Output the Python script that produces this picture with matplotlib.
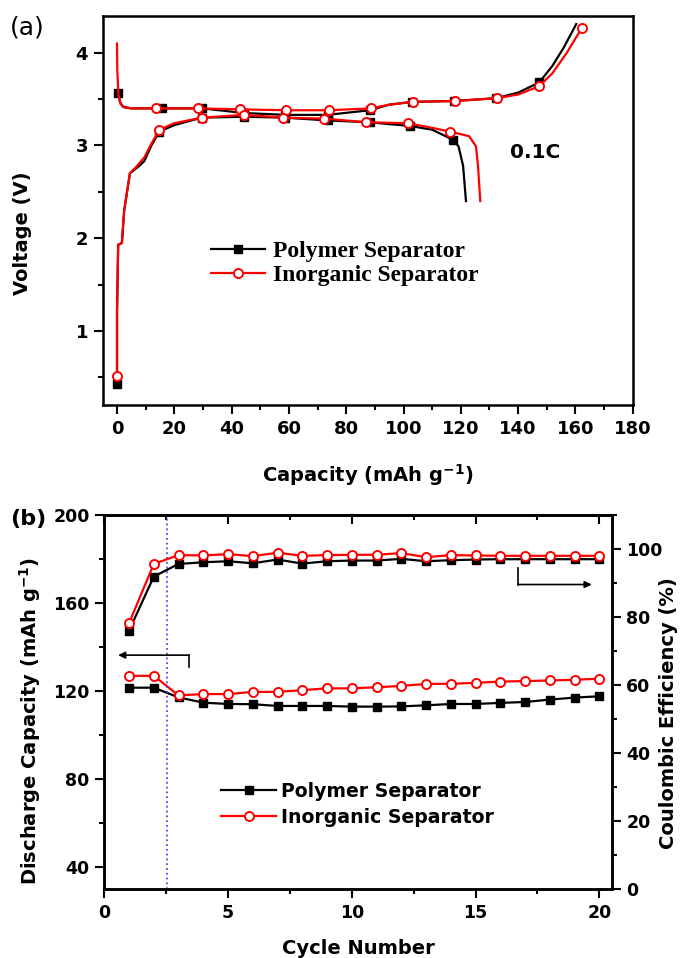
import numpy as np
import matplotlib
matplotlib.use('Agg')
import matplotlib.pyplot as plt
from matplotlib.ticker import MultipleLocator

plt.rcParams['font.family'] = ['DejaVu Sans']
plt.rcParams['font.weight'] = 'bold'
plt.rcParams['mathtext.fontset'] = 'dejavusans'
plt.rcParams['mathtext.default'] = 'bf'

# ---- panel (a): charge / discharge profiles at 0.1C ----
red_charge_cap = [0, 0.1, 0.5, 1.2, 2.5, 5, 13.6, 28.2, 42.9, 58.9, 73.9, 88.5, 95, 103.2,
                  117.9, 132.6, 140, 147.4, 152, 157, 162.3]
red_charge_v = [4.10, 3.80, 3.55, 3.45, 3.41, 3.40, 3.40, 3.40, 3.39, 3.38, 3.38, 3.40, 3.44, 3.47,
                3.48, 3.51, 3.55, 3.64, 3.78, 4.00, 4.27]
red_charge_marks = [6, 7, 8, 9, 10, 11, 13, 14, 15, 17, 20]

black_charge_cap = [0.5, 1.0, 2.0, 5, 15.6, 29.7, 44.4, 58.8, 73.5, 88.2, 95, 102.9, 117.6,
                    132.4, 140, 147.4, 152, 156, 160.3]
black_charge_v = [3.57, 3.47, 3.42, 3.40, 3.40, 3.40, 3.35, 3.33, 3.33, 3.38, 3.44, 3.47, 3.48,
                  3.51, 3.57, 3.68, 3.86, 4.06, 4.31]
black_charge_marks = [0, 4, 5, 6, 7, 8, 9, 11, 12, 13, 15]

red_dis_cap = [0, 0, 0.4, 0.6, 1.7, 2.5, 4.5, 7, 9.5, 12, 14.8, 20, 29.5, 44.4, 58, 72.4, 87,
               101.5, 110, 116.2, 122.9, 125.3, 126.0, 126.8]
red_dis_v = [0.51, 1.2, 1.93, 1.93, 1.95, 2.3, 2.70, 2.78, 2.87, 3.02, 3.17, 3.24, 3.30, 3.33,
             3.30, 3.29, 3.25, 3.24, 3.19, 3.15, 3.10, 2.99, 2.78, 2.40]
red_dis_marks = [0, 10, 12, 13, 14, 15, 16, 17, 19]

black_dis_cap = [0, 0, 0.4, 0.6, 1.7, 2.5, 4.5, 7, 9.5, 12, 14.8, 20, 29.5, 44.4, 58.6, 73.5,
                 88.2, 102.3, 110, 117.4, 119.2, 120.8, 121.8]
black_dis_v = [0.43, 1.2, 1.93, 1.93, 1.95, 2.3, 2.70, 2.76, 2.83, 3.0, 3.15, 3.22, 3.30, 3.31,
               3.30, 3.27, 3.25, 3.21, 3.17, 3.06, 2.99, 2.78, 2.40]
black_dis_marks = [0, 10, 12, 13, 14, 15, 16, 17, 19]

# ---- panel (b): cycling ----
cycles = np.arange(1, 21)
black_cap = [121.5, 121.5, 117.1, 114.7, 114.1, 114.0, 113.2, 113.2, 113.2, 112.9,
             112.9, 113.0, 113.5, 114.1, 114.1, 114.6, 115.0, 116.1, 117.0, 117.6]
red_cap = [126.9, 126.9, 118.0, 118.6, 118.6, 119.6, 119.6, 120.4, 121.2, 121.2,
           121.7, 122.3, 123.2, 123.3, 123.7, 124.3, 124.5, 124.8, 125.1, 125.6]
black_ce = [76.0, 91.9, 95.6, 96.1, 96.4, 95.8, 96.9, 95.7, 96.4, 96.6,
            96.6, 97.1, 96.4, 96.7, 96.9, 97.0, 97.0, 97.0, 97.0, 97.0]
red_ce = [78.2, 95.6, 98.2, 98.1, 98.5, 97.9, 98.9, 98.0, 98.2, 98.3,
          98.3, 98.8, 97.6, 98.2, 98.1, 98.0, 98.0, 98.0, 98.0, 98.0]

labels = ['Polymer Separator', 'Inorganic Separator']
RED = '#ff0000'

fig = plt.figure(figsize=(6.81, 9.58), dpi=100)

blk_style = dict(color='black', lw=1.6, marker='s', ms=5.5, mfc='black', mec='black')
red_style = dict(color=RED, lw=1.6, marker='o', ms=6.5, mfc='white', mec=RED, mew=1.4)


def style_ticks(ax, size):
    for sp in ax.spines.values():
        sp.set_linewidth(1.8)
    ax.tick_params(which='major', length=6.5, width=1.5, labelsize=size, pad=4)
    ax.tick_params(which='minor', length=3.5, width=1.5)


def center_label(label):
    label.set_ha('center')
    label.set_va('center')


# panel (a)
ax1 = fig.add_axes([102.7 / 681, 1 - 405 / 958, 530 / 681, 389.3 / 958])
ax1.plot(black_charge_cap, black_charge_v, markevery=black_charge_marks, **blk_style)
ax1.plot(black_dis_cap, black_dis_v, markevery=black_dis_marks, **blk_style)
ax1.plot(red_charge_cap, red_charge_v, markevery=red_charge_marks, **red_style)
ax1.plot(red_dis_cap, red_dis_v, markevery=red_dis_marks, **red_style)
ax1.set_xlim(-5, 180)
ax1.set_ylim(0.2, 4.4)
ax1.xaxis.set_major_locator(MultipleLocator(20))
ax1.xaxis.set_minor_locator(MultipleLocator(10))
ax1.yaxis.set_major_locator(MultipleLocator(1))
ax1.yaxis.set_minor_locator(MultipleLocator(0.5))
ax1.tick_params(which='both', direction='out', top=False, right=False)
style_ticks(ax1, 13)
ax1.set_xlabel('Capacity (mAh g$^{-1}$)', fontsize=14, fontweight='bold')
ax1.set_ylabel('Voltage (V)', fontsize=14, fontweight='bold')
center_label(ax1.xaxis.label)
center_label(ax1.yaxis.label)
ax1.xaxis.set_label_coords(0.5, -0.18)
ax1.yaxis.set_label_coords(-0.152, 0.44)
ax1.text(145.9, 2.92, '0.1C', fontsize=14.5, fontweight='bold', ha='center', va='center')

h_blk = plt.Line2D([], [], **blk_style)
h_red = plt.Line2D([], [], **red_style)
ax1.legend([h_blk, h_red], labels, loc='center left',
           bbox_to_anchor=(210.7 / 681, 1 - 263.3 / 958), bbox_transform=fig.transFigure,
           frameon=False, borderpad=0, borderaxespad=0, handlelength=2.3, handletextpad=0.33,
           labelspacing=0.12, prop=dict(family='Liberation Serif', weight='bold', size=17))

# panel (b)
ax2 = fig.add_axes([104.3 / 681, 1 - 889 / 958, 507.4 / 681, 374 / 958])
ax2r = ax2.twinx()
ax2.plot(cycles, black_cap, **blk_style)
ax2.plot(cycles, red_cap, **red_style)
ax2r.plot(cycles, black_ce, **blk_style)
ax2r.plot(cycles, red_ce, **red_style)
ax2.axvline(2.55, color='#4a4aff', ls=':', lw=1.3)
ax2.set_xlim(0, 20.5)
ax2.set_ylim(30, 200)
ax2r.set_ylim(0, 110)
ax2.xaxis.set_major_locator(MultipleLocator(5))
ax2.xaxis.set_minor_locator(MultipleLocator(2.5))
ax2.yaxis.set_major_locator(MultipleLocator(40))
ax2.yaxis.set_minor_locator(MultipleLocator(20))
ax2r.yaxis.set_major_locator(MultipleLocator(20))
ax2r.yaxis.set_minor_locator(MultipleLocator(10))
ax2.tick_params(which='both', direction='out', top=False, right=False)
style_ticks(ax2, 12.5)
style_ticks(ax2r, 12.5)
ax2r.tick_params(which='both', direction='out')

# top spine ticks point inside, no labels
top = ax2.secondary_xaxis('top')
top.xaxis.set_major_locator(MultipleLocator(5))
top.xaxis.set_minor_locator(MultipleLocator(2.5))
top.tick_params(which='both', direction='in', labeltop=False, width=1.5)
top.tick_params(which='major', length=6.5)
top.tick_params(which='minor', length=3.5)
top.spines['top'].set_linewidth(1.8)

ax2.set_xlabel('Cycle Number', fontsize=14, fontweight='bold')
ax2.set_ylabel('Discharge Capacity (mAh g$^{-1}$)', fontsize=14, fontweight='bold')
ax2r.set_ylabel('Coulombic Efficiency (%)', fontsize=14, fontweight='bold', rotation=90)
for lab in (ax2.xaxis.label, ax2.yaxis.label, ax2r.yaxis.label):
    center_label(lab)
ax2.xaxis.set_label_coords(0.5, -0.158)
ax2.yaxis.set_label_coords(-0.146, 0.45)
ax2r.yaxis.set_label_coords(1.112, 0.47)

# direction arrows
ax2.plot([3.43, 3.43], [130.7, 136.3], color='black', lw=1.2)
ax2.annotate('', xy=(0.56, 136.3), xytext=(3.43, 136.3),
             arrowprops=dict(arrowstyle='-|>', color='black', lw=1.2, shrinkA=0, shrinkB=0))
ax2.plot([16.71, 16.71], [175.9, 168.4], color='black', lw=1.2)
ax2.annotate('', xy=(19.69, 168.4), xytext=(16.71, 168.4),
             arrowprops=dict(arrowstyle='-|>', color='black', lw=1.2, shrinkA=0, shrinkB=0))

ax2r.legend([h_blk, h_red], labels, loc='center left',
            bbox_to_anchor=(221.5 / 681, 1 - 804.3 / 958), bbox_transform=fig.transFigure,
            frameon=False, borderpad=0, borderaxespad=0, handlelength=2.87, handletextpad=0.3,
            labelspacing=0.35, prop=dict(family='DejaVu Sans', weight='bold', size=13.6))

fig.text(27 / 681, 1 - 27 / 958, '(a)', fontsize=18, fontweight='normal', ha='center', va='center')
fig.text(28 / 681, 1 - 518.5 / 958, '(b)', fontsize=16, fontweight='bold', ha='center', va='center')

fig.savefig('out.png', dpi=100)
